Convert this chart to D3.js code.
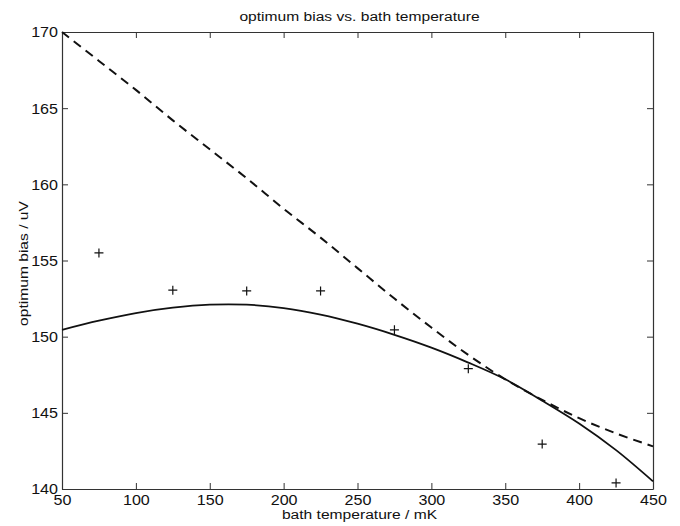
<!DOCTYPE html>
<html>
<head>
<meta charset="utf-8">
<script src="https://cdn.jsdelivr.net/npm/d3@7"></script>
<style>
  body { margin: 0; background: #fff; }
  text { font-family: "Liberation Sans", Arial, sans-serif; fill: #111; }
</style>
</head>
<body>
<div id="chart"></div>
<script>
// curve samples (bath temperature, mK)
const temps = [50, 75, 100, 125, 150, 175, 200, 225, 250, 275, 300, 325, 350, 375, 400, 425, 450];
// solid fit through the measured optimum
const fitBias = [150.45, 151.05, 151.55, 151.9, 152.1, 152.1, 151.88, 151.45, 150.85, 150.12, 149.28, 148.3, 147.2, 145.8, 144.3, 142.55, 140.5];
// dashed model prediction
const modelBias = [170, 168.1, 166.2, 164.2, 162.3, 160.4, 158.4, 156.5, 154.5, 152.5, 150.6, 148.8, 147.2, 145.85, 144.65, 143.65, 142.8];
// measured points (+ markers)
const measTemps = [75, 125, 175, 225, 275, 325, 375, 425];
const measBias = [155.5, 153.05, 153.0, 153.0, 150.45, 147.9, 142.95, 140.4];

const xTicks = [50, 100, 150, 200, 250, 300, 350, 400, 450];
const yTicks = [140, 145, 150, 155, 160, 165, 170];

const margin = { top: 32, right: 27, bottom: 37, left: 62 };
const width = 680 - margin.left - margin.right;
const height = 526 - margin.top - margin.bottom;

const svgRoot = d3.select("#chart").append("svg")
  .attr("width", 680)
  .attr("height", 526);

const svg = svgRoot.append("g")
  .attr("transform", `translate(${margin.left},${margin.top})`);

const x = d3.scaleLinear().domain([50, 450]).range([0, width]);
const y = d3.scaleLinear().domain([140, 170]).range([height, 0]);

// box with inward ticks on all four sides
const tickLen = 6;
svg.append("g")
  .attr("transform", `translate(0,${height})`)
  .call(d3.axisBottom(x).tickValues(xTicks).tickSizeInner(-tickLen).tickSizeOuter(0))
  .call(g => g.selectAll("text").attr("class", "tl").attr("y", 16).attr("dy", 0));
svg.append("g")
  .call(d3.axisTop(x).tickValues(xTicks).tickSizeInner(-tickLen).tickSizeOuter(0).tickFormat(""));
svg.append("g")
  .call(d3.axisLeft(y).tickValues(yTicks).tickSizeInner(-tickLen).tickSizeOuter(0))
  .call(g => g.selectAll("text").attr("class", "tl").attr("x", -4).attr("dy", "0.35em"));
svg.append("g")
  .attr("transform", `translate(${width},0)`)
  .call(d3.axisRight(y).tickValues(yTicks).tickSizeInner(-tickLen).tickSizeOuter(0).tickFormat(""));

svg.selectAll(".domain").attr("stroke", "#333").attr("stroke-width", 1.2);
svg.selectAll(".tick line").attr("stroke", "#333");
svg.selectAll("text.tl").attr("fill", "#111").style("font-size", "14px").attr("font-family", null);

// lines
const line = d3.line().x(d => x(d[0])).y(d => y(d[1])).curve(d3.curveCatmullRom);

svg.append("path")
  .datum(temps.map((t, i) => [t, modelBias[i]]))
  .attr("fill", "none")
  .attr("stroke", "#111")
  .attr("stroke-width", 2)
  .attr("stroke-dasharray", "9,6")
  .attr("d", line);

svg.append("path")
  .datum(temps.map((t, i) => [t, fitBias[i]]))
  .attr("fill", "none")
  .attr("stroke", "#111")
  .attr("stroke-width", 1.8)
  .attr("d", line);

// + markers
const arm = 4.5;
svg.selectAll("path.plus")
  .data(measTemps.map((t, i) => [t, measBias[i]]))
  .enter()
  .append("path")
  .attr("class", "plus")
  .attr("fill", "none")
  .attr("stroke", "#111")
  .attr("stroke-width", 1.2)
  .attr("d", d => {
    const cx = x(d[0]), cy = y(d[1]);
    return `M${cx - arm},${cy}H${cx + arm}M${cx},${cy - arm}V${cy + arm}`;
  });

// labels
svgRoot.append("text")
  .attr("x", margin.left + width / 2 + 2)
  .attr("y", 20.5)
  .attr("text-anchor", "middle")
  .style("font-size", "12px")
  .text("optimum bias vs. bath temperature");

svgRoot.append("text")
  .attr("x", margin.left + width / 2 + 2)
  .attr("y", 519)
  .attr("text-anchor", "middle")
  .style("font-size", "12px")
  .text("bath temperature / mK");

svgRoot.append("text")
  .attr("transform", "rotate(-90)")
  .attr("x", -(margin.top + height / 2) - 3)
  .attr("y", 28)
  .attr("text-anchor", "middle")
  .style("font-size", "12px")
  .text("optimum bias / uV");

// the source glyphs are wide; stretch every label along its run
svgRoot.selectAll("text").each(function() {
  const w = this.getComputedTextLength();
  const k = this.classList.contains("tl") ? 1.15 : 1.3;
  if (w > 0) {
    d3.select(this).attr("textLength", w * k).attr("lengthAdjust", "spacingAndGlyphs");
  }
});
</script>
</body>
</html>
